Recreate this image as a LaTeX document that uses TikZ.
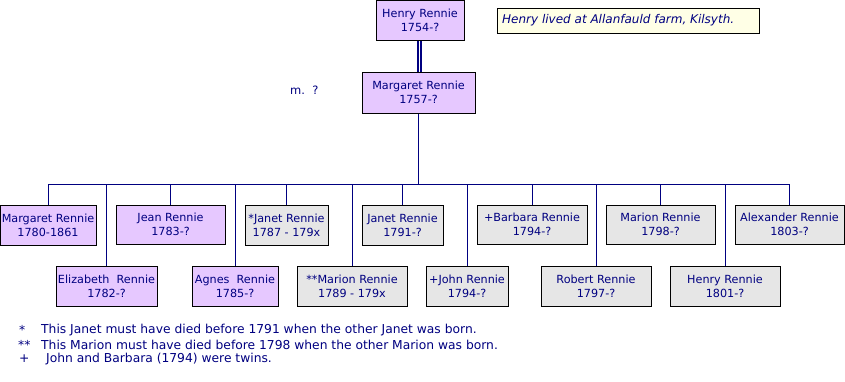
\documentclass[tikz,border=0pt]{standalone}
\usepackage{fontspec}
\setmainfont{DejaVu Sans}
\definecolor{navy}{HTML}{000080}
\definecolor{lav}{HTML}{E6C8FF}
\definecolor{gry}{HTML}{E6E6E6}
\definecolor{notey}{HTML}{FFFFE6}
\begin{document}
\begin{tikzpicture}[x=1pt,y=-1pt,
  person/.style={draw=black, line width=1pt, text=navy, align=center, inner sep=0pt,
    font=\fontsize{11.2}{14}\selectfont, minimum height=40pt},
  purp/.style={person, fill=lav},
  grey/.style={person, fill=gry},
  link/.style={draw=navy, line width=1pt},
  txt/.style={text=navy, inner sep=0pt, font=\fontsize{12.3}{14}\selectfont, anchor=west}
]
\useasboundingbox (0,0) rectangle (845,381);
% parents
\node[purp, minimum width=88pt] (henry) at (420,20) {Henry Rennie\\1754-?};
\node[purp, minimum width=113pt, minimum height=41pt] (marg) at (418.5,92.5) {Margaret Rennie\\1757-?};
\node[draw=black, line width=1pt, fill=notey, minimum width=262pt, minimum height=25pt, inner sep=0pt] (note) at (628,20.5) {};
\node[txt, font=\fontsize{12}{14}\selectfont\itshape] (notet) at (502,20.5) {Henry lived at Allanfauld farm, Kilsyth.};
\node[txt, font=\fontsize{11.5}{14}\selectfont] (mq) at (290,90) {m.\ \ ?};
\draw[navy, line width=1.8pt, double=white, double distance=1.2pt] (marg.north -| 419.5,0) -- (henry.south -| 419.5,0);
% children top row
\node[purp, minimum width=96pt] (c1) at (48,225) {Margaret Rennie\\1780-1861};
\node[purp, minimum width=109pt, minimum height=39pt] (c3) at (170.5,224.5) {Jean Rennie\\1783-?};
\node[grey, minimum width=83pt] (c5) at (286.5,225) {*Janet Rennie\\1787 - 179x};
\node[grey, minimum width=81pt] (c7) at (402.5,225) {Janet Rennie\\1791-?};
\node[grey, minimum width=110pt, minimum height=39pt] (c9) at (532,224.5) {+Barbara Rennie\\1794-?};
\node[grey, minimum width=109pt, minimum height=39pt] (c11) at (660.5,224.5) {Marion Rennie\\1798-?};
\node[grey, minimum width=109pt, minimum height=39pt] (c13) at (789.5,224.5) {Alexander Rennie\\1803-?};
% children bottom row
\node[purp, minimum width=101pt] (c2) at (106.5,286) {Elizabeth\ \ Rennie\\1782-?};
\node[purp, minimum width=86pt] (c4) at (235,286) {Agnes\ \ Rennie\\1785-?};
\node[grey, minimum width=110pt] (c6) at (352,286) {**Marion Rennie\\1789 - 179x};
\node[grey, minimum width=82pt] (c8) at (467,286) {+John Rennie\\1794-?};
\node[grey, minimum width=110pt] (c10) at (596,286) {Robert Rennie\\1797-?};
\node[grey, minimum width=110pt] (c12) at (725,286) {Henry Rennie\\1801-?};
% connectors
\coordinate (busL) at (48,184);
\coordinate (busR) at (790,184);
\draw[link] (busL) -- (busR);
\draw[link] (marg.south) -- (marg.south |- busL);
\foreach \c in {c1,c2,c3,c4,c5,c6,c7,c8,c9,c10,c11,c12,c13}
  \draw[link] (\c.north) -- (\c.north |- busL);
% footnotes
\node[txt] (f1s) at (19,330) {*};
\node[txt] (f1) at (41,330) {This Janet must have died before 1791 when the other Janet was born.};
\node[txt] (f2s) at (18,345) {**};
\node[txt] (f2) at (41,345) {This Marion must have died before 1798 when the other Marion was born.};
\node[txt] (f3s) at (19,359) {+};
\node[txt] (f3) at (46,359) {John and Barbara (1794) were twins.};
\end{tikzpicture}
\end{document}
